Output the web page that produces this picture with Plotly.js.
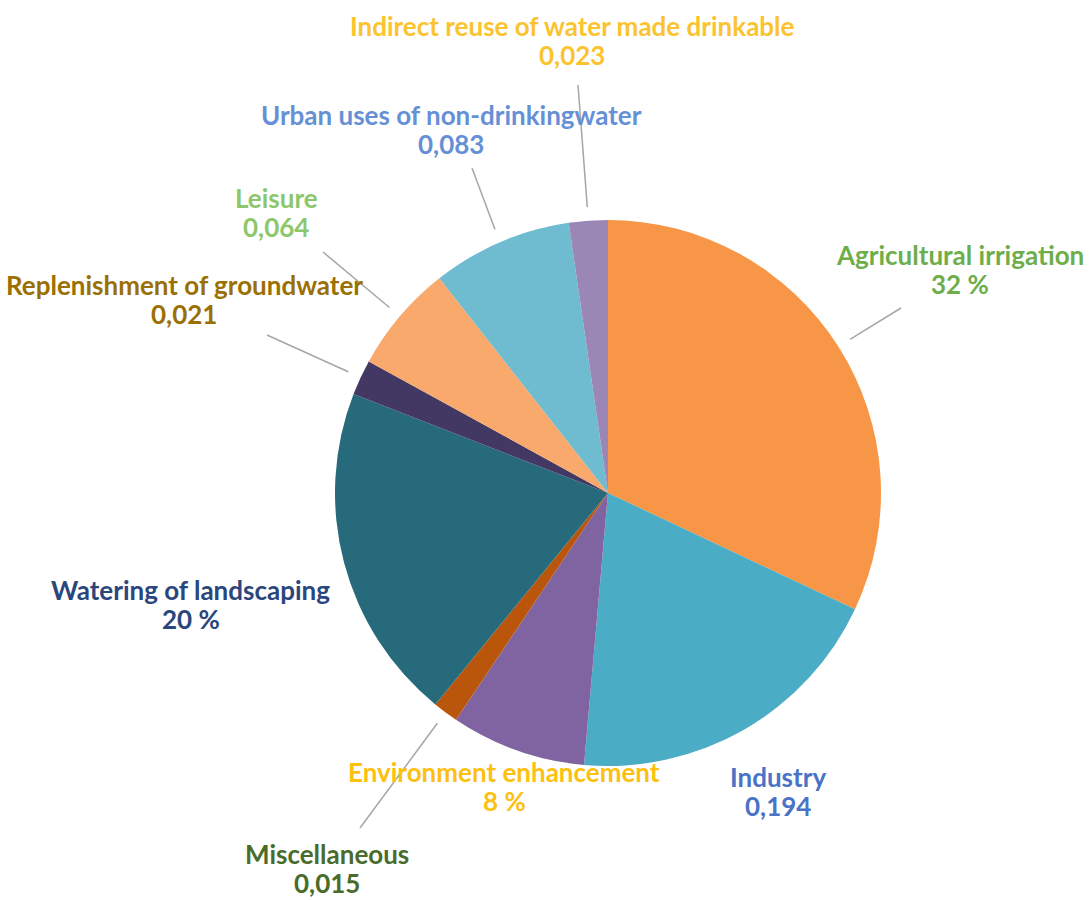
<!DOCTYPE html>
<html>
<head>
<meta charset="utf-8">
<script src="https://cdn.plot.ly/plotly-3.0.1.min.js"></script>
<style>html,body{margin:0;padding:0;background:#fff;}#chart{width:1089px;height:900px;}</style>
</head>
<body>
<div id="chart"></div>
<script>
// ---- data ----
var categories = [
  "Agricultural irrigation",
  "Industry",
  "Environment enhancement",
  "Miscellaneous",
  "Watering of landscaping",
  "Replenishment of groundwater",
  "Leisure",
  "Urban uses of non-drinkingwater",
  "Indirect reuse of water made drinkable"
];
var shares = [0.32, 0.194, 0.08, 0.015, 0.20, 0.021, 0.064, 0.083, 0.023];
var valueLabels = ["32 %", "0,194", "8 %", "0,015", "20 %", "0,021", "0,064", "0,083", "0,023"];

// ---- styles ----
var sliceColors = ["#F79646", "#4BACC6", "#8064A2", "#B9560C", "#276A7C", "#433763", "#F8A96B", "#6FBBD0", "#9A87B6"];
var labelColors = ["#6DAE4A", "#4A73C6", "#FDC00F", "#4A6C2B", "#2A467C", "#9B7003", "#8DC76C", "#6690D6", "#FBC32E"];

// ---- layout (pixels in the 1089x900 figure) ----
var W = 1089, H = 900;
var pie = {cx: 608, cy: 493, r: 273};
// label line-1 centre positions; line 2 sits lineGap px lower
var labelPos = [[960,255],[778,777],[504,772],[327,854],[191,590],[184,285],[276,198],[451,115],[572,26]];
var lineGap = 29;
// leader line end points (null = no leader)
var leaderEnd = [[901,308], null, null, [360,828], null, [267,335], [323,252], [472,168], [578,85]];

function px(x){return x/W;}
function py(y){return 1 - y/H;}

var font = 'Lato, "Open Sans", sans-serif';
var total = shares.reduce(function(a,b){return a+b;},0);
var annotations = [], shapes = [];
var cum = 0;
for (var i = 0; i < categories.length; i++) {
  var mid = (cum + shares[i]/2) / total * 2 * Math.PI;
  cum += shares[i];
  annotations.push({
    xref:'paper', yref:'paper', x: px(labelPos[i][0]), y: py(labelPos[i][1]),
    xanchor:'center', yanchor:'middle', showarrow:false,
    text: '<b>' + categories[i] + '</b>',
    font: {family:font, size:26, color: labelColors[i]}
  });
  annotations.push({
    xref:'paper', yref:'paper', x: px(labelPos[i][0]), y: py(labelPos[i][1] + lineGap),
    xanchor:'center', yanchor:'middle', showarrow:false,
    text: '<b>' + valueLabels[i] + '</b>',
    font: {family:font, size:26, color: labelColors[i]}
  });
  if (leaderEnd[i]) {
    var rr = pie.r * 1.05;
    var sx = pie.cx + rr * Math.sin(mid), sy = pie.cy - rr * Math.cos(mid);
    shapes.push({type:'line', xref:'paper', yref:'paper',
      x0: px(sx), y0: py(sy), x1: px(leaderEnd[i][0]), y1: py(leaderEnd[i][1]),
      line:{color:'#A6A6A6', width:1.5}});
  }
}

var trace = {
  type:'pie', labels: categories, values: shares, sort:false,
  direction:'clockwise', rotation:0, textinfo:'none', hoverinfo:'label+value',
  marker:{colors: sliceColors, line:{width:0}},
  domain:{x:[px(pie.cx-pie.r), px(pie.cx+pie.r)], y:[py(pie.cy+pie.r), py(pie.cy-pie.r)]},
  showlegend:false
};

var layout = {
  width:W, height:H, margin:{l:0,r:0,t:0,b:0},
  paper_bgcolor:'#fff', plot_bgcolor:'#fff',
  annotations: annotations, shapes: shapes, showlegend:false
};
Plotly.newPlot('chart', [trace], layout, {displayModeBar:false, staticPlot:true});
</script>
</body>
</html>
